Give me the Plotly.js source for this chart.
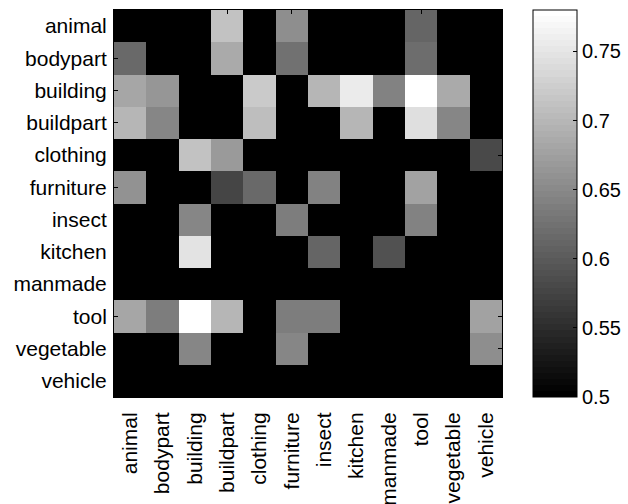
<!DOCTYPE html>
<html>
<head>
<meta charset="utf-8">
<script src="https://cdn.plot.ly/plotly-3.0.1.min.js"></script>
<style>html,body{margin:0;padding:0;background:#fff;}#chart{width:628px;height:504px;}</style>
</head>
<body>
<div id="chart"></div>
<script>
const categories = ["animal","bodypart","building","buildpart","clothing","furniture","insect","kitchen","manmade","tool","vegetable","vehicle"];
// rows = y categories (top to bottom), columns = x categories
const row_animal    = [0.5,0.5,0.5,0.714,0.5,0.654,0.5,0.5,0.5,0.610,0.5,0.5];
const row_bodypart  = [0.615,0.5,0.5,0.687,0.5,0.626,0.5,0.5,0.5,0.621,0.5,0.5];
const row_building  = [0.681,0.665,0.5,0.5,0.720,0.5,0.698,0.755,0.643,0.78,0.687,0.5];
const row_buildpart = [0.698,0.648,0.5,0.5,0.709,0.5,0.5,0.698,0.5,0.744,0.648,0.5];
const row_clothing  = [0.5,0.5,0.714,0.670,0.5,0.5,0.5,0.5,0.5,0.5,0.5,0.582];
const row_furniture = [0.659,0.5,0.5,0.577,0.615,0.5,0.643,0.5,0.5,0.676,0.5,0.5];
const row_insect    = [0.5,0.5,0.648,0.5,0.5,0.637,0.5,0.5,0.5,0.643,0.5,0.5];
const row_kitchen   = [0.5,0.5,0.747,0.5,0.5,0.5,0.610,0.5,0.588,0.5,0.5,0.5];
const row_manmade   = [0.5,0.5,0.5,0.5,0.5,0.5,0.5,0.5,0.5,0.5,0.5,0.5];
const row_tool      = [0.681,0.637,0.78,0.698,0.5,0.637,0.637,0.5,0.5,0.5,0.5,0.676];
const row_vegetable = [0.5,0.5,0.648,0.5,0.5,0.648,0.5,0.5,0.5,0.5,0.5,0.654];
const row_vehicle   = [0.5,0.5,0.5,0.5,0.5,0.5,0.5,0.5,0.5,0.5,0.5,0.5];
const colorTicks = [0.5,0.55,0.6,0.65,0.7,0.75];

const z = [row_animal,row_bodypart,row_building,row_buildpart,row_clothing,row_furniture,
           row_insect,row_kitchen,row_manmade,row_tool,row_vegetable,row_vehicle];

// MATLAB-like 64-level gray colormap (stepped)
const N = 64, cs = [];
for (let i = 0; i < N; i++) {
  const g = Math.round(255 * i / (N - 1));
  const c = `rgb(${g},${g},${g})`;
  cs.push([i / N, c]);
  cs.push([(i + 1) / N, c]);
}

const FONT = "Liberation Sans, Arial, Helvetica, sans-serif";

const trace = {
  type: "heatmap",
  x: categories,
  y: categories,
  z: z,
  zmin: 0.5,
  zmax: 0.78,
  colorscale: cs,
  xgap: 0, ygap: 0,
  hoverinfo: "x+y+z",
  colorbar: {
    x: 1.080, xanchor: "left", xref: "paper",
    y: 0, yanchor: "bottom", len: 1, lenmode: "fraction",
    thickness: 44, thicknessmode: "pixels",
    outlinecolor: "#000", outlinewidth: 1,
    tickvals: colorTicks,
    ticktext: colorTicks.map(v => String(v)),
    ticks: "inside", ticklen: 4, tickcolor: "#000",
    tickfont: {family: FONT, size: 20, color: "#000"},
    xpad: 0, ypad: 0
  }
};

const layout = {
  width: 628, height: 504,
  margin: {l: 114, r: 126, t: 10, b: 107, autoexpand: false},
  paper_bgcolor: "#fff", plot_bgcolor: "#000",
  font: {family: FONT, size: 21, color: "#000"},
  xaxis: {
    type: "category", tickangle: -90, ticks: "inside", ticklen: 4, tickcolor: "#000",
    showline: true, linecolor: "#000", mirror: "ticks", showgrid: false, zeroline: false,
    automargin: false,
    tickfont: {family: FONT, size: 21, color: "#000"}, ticklabelstandoff: 6
  },
  yaxis: {
    type: "category", autorange: "reversed", ticks: "inside", ticklen: 4, tickcolor: "#000",
    showline: true, linecolor: "#000", mirror: "ticks", showgrid: false, zeroline: false,
    automargin: false,
    tickfont: {family: FONT, size: 21, color: "#000"}, ticklabelstandoff: 2
  }
};

Plotly.newPlot("chart", [trace], layout, {displayModeBar: false, staticPlot: true});
</script>
</body>
</html>
